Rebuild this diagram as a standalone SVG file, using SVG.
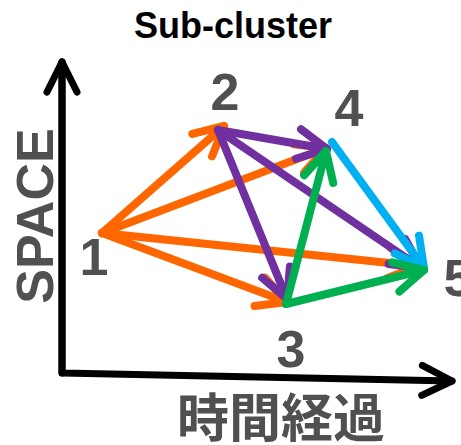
<svg xmlns="http://www.w3.org/2000/svg" width="461" height="445" viewBox="0 0 461 445">
  <style>
    .title { font-family: "Liberation Sans", Arial, sans-serif; font-weight: bold; font-size: 36px; fill: #000; }
    .num { font-family: "Liberation Sans", Arial, sans-serif; font-weight: bold; font-size: 52px; fill: #505050; }
    .axis-label { font-family: "Liberation Sans", "Noto Sans CJK JP", sans-serif; font-weight: bold; font-size: 52px; fill: #505050; }
    .axis { fill: none; stroke: #000; stroke-width: 7; stroke-linecap: round; stroke-linejoin: round; }
    .edge { fill: none; stroke-width: 8; stroke-linecap: round; stroke-linejoin: round; }
    .orange { stroke: #FF6600; }
    .purple { stroke: #7030A0; }
    .green { stroke: #00B050; }
    .blue { stroke: #00B0F0; }
    .head { fill: none; stroke-width: 8; stroke-linecap: round; stroke-linejoin: round; }
  </style>
  <defs>
    <marker id="ah-black" markerUnits="userSpaceOnUse" viewBox="-40 -25 50 50" markerWidth="50" markerHeight="50" refX="0" refY="0" orient="auto" overflow="visible">
      <path d="M -30,-15 L 0,0 L -30,15" fill="none" stroke="#000" stroke-width="7" stroke-linecap="round" stroke-linejoin="round"/>
    </marker>
    <marker id="ah-orange" markerUnits="userSpaceOnUse" viewBox="-40 -25 50 50" markerWidth="50" markerHeight="50" refX="0" refY="0" orient="auto" overflow="visible">
      <path class="head orange" d="M -29,-15 L 0,0 L -29,15"/>
    </marker>
    <marker id="ah-purple" markerUnits="userSpaceOnUse" viewBox="-40 -25 50 50" markerWidth="50" markerHeight="50" refX="0" refY="0" orient="auto" overflow="visible">
      <path class="head purple" d="M -29,-15 L 0,0 L -29,15"/>
    </marker>
    <marker id="ah-green" markerUnits="userSpaceOnUse" viewBox="-40 -25 50 50" markerWidth="50" markerHeight="50" refX="0" refY="0" orient="auto" overflow="visible">
      <path class="head green" d="M -29,-15 L 0,0 L -29,15"/>
    </marker>
    <marker id="ah-blue" markerUnits="userSpaceOnUse" viewBox="-40 -25 50 50" markerWidth="50" markerHeight="50" refX="0" refY="0" orient="auto" overflow="visible">
      <path class="head blue" d="M -29,-15 L 0,0 L -29,15"/>
    </marker>
  </defs>

  <text class="title" x="233" y="38" text-anchor="middle">Sub-cluster</text>

  <!-- axes -->
  <g id="axes">
    <path class="axis" d="M 62,62 L 62,373 L 452,381" marker-end="url(#ah-black)"/>
    <line class="axis" x1="62" y1="373" x2="62" y2="62" marker-end="url(#ah-black)"/>
    <text class="axis-label" transform="translate(53,216) rotate(-90)" text-anchor="middle">SPACE</text>
    <text class="axis-label" x="281" y="437" text-anchor="middle">時間経過</text>
  </g>

  <!-- connectors between points -->
  <g id="connectors">
    <line class="edge orange" x1="102" y1="233" x2="224" y2="126" marker-end="url(#ah-orange)"/>
    <line class="edge orange" x1="102" y1="233" x2="326" y2="148" marker-end="url(#ah-orange)"/>
    <line class="edge orange" x1="102" y1="233" x2="418" y2="266" marker-end="url(#ah-orange)"/>
    <line class="edge orange" x1="102" y1="233" x2="287" y2="302" marker-end="url(#ah-orange)"/>
    <line class="edge purple" x1="218" y1="130" x2="327" y2="149" marker-end="url(#ah-purple)"/>
    <line class="edge purple" x1="218" y1="130" x2="287" y2="299" marker-end="url(#ah-purple)"/>
    <line class="edge purple" x1="218" y1="130" x2="421" y2="268" marker-end="url(#ah-purple)"/>
    <line class="edge blue" x1="332" y1="142" x2="424" y2="268" marker-end="url(#ah-blue)"/>
    <line class="edge green" x1="286" y1="304" x2="326" y2="151" marker-end="url(#ah-green)" stroke-linecap="butt"/>
    <line class="edge green" x1="286" y1="304" x2="424" y2="270" marker-end="url(#ah-green)" stroke-linecap="butt"/>
  </g>

  <g id="node-1"><text class="num" x="94" y="275" text-anchor="middle">1</text></g>
  <g id="node-2"><text class="num" x="225" y="110" text-anchor="middle">2</text></g>
  <g id="node-3"><text class="num" x="291" y="367" text-anchor="middle">3</text></g>
  <g id="node-4"><text class="num" x="349" y="126" text-anchor="middle">4</text></g>
  <g id="node-5"><text class="num" x="458" y="296" text-anchor="middle">5</text></g>
</svg>
